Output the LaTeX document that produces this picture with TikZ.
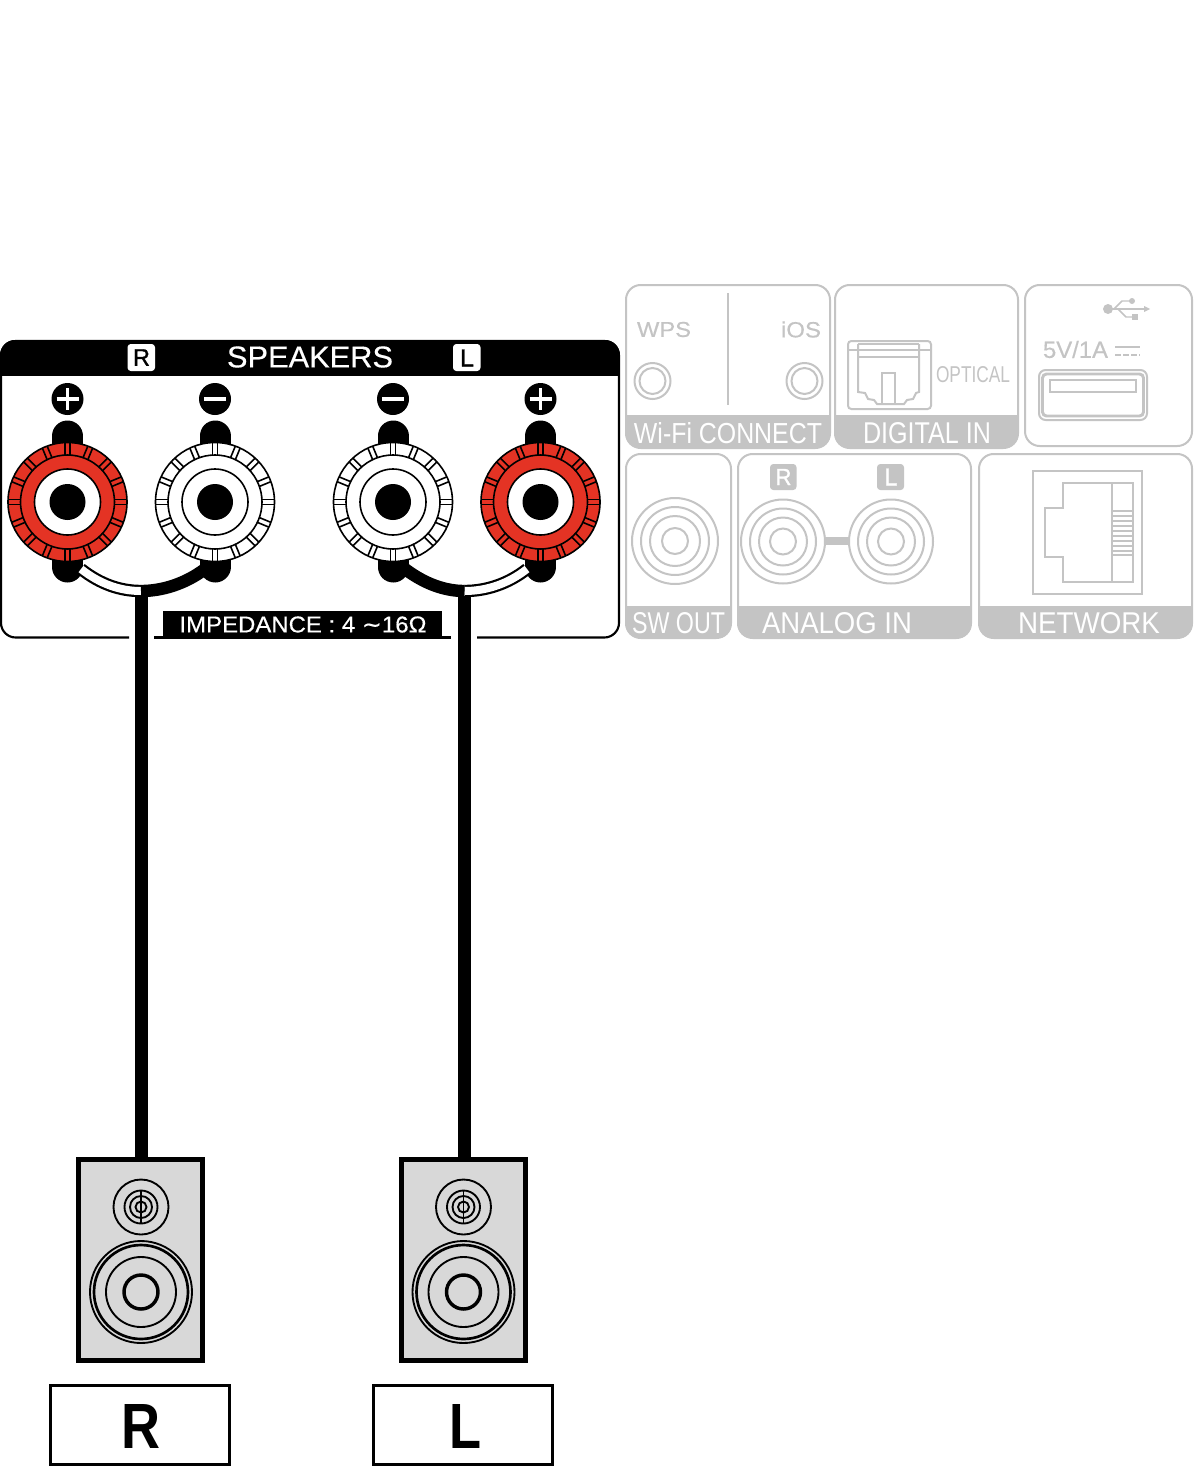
\documentclass[tikz,border=0pt]{standalone}
\usepackage{graphicx}
\usepackage{fontspec}
\setmainfont{Liberation Sans}
\newfontfamily\djv[FakeBold=0.4]{DejaVu Sans}
\newfontfamily\hvy[FakeBold=0.4]{Liberation Sans}
\newfontfamily\hvyy[FakeBold=1.2]{Liberation Sans}
\definecolor{dimgray}{HTML}{C4C4C4}
\definecolor{termred}{HTML}{E43324}
\definecolor{spkgray}{HTML}{D8D8D8}
\newcommand{\fitt}[3]{\resizebox{\dimexpr#1pt*3/4\relax}{\dimexpr#2pt*3/4\relax}{#3}}
\newcommand{\gpanel}[5]{%
  \begin{scope}
    \clip[rounded corners=11pt] (#1,#2) rectangle (#3,#4);
    \fill[dimgray] (#1,#5) rectangle (#3,#4);
  \end{scope}
  \draw[dimline,rounded corners=11pt] (#1,#2) rectangle (#3,#4);}
\newcommand{\binding}[3]{% x, name, ring fill
  \draw[line width=23.25pt,line cap=round] (#1,436) -- (#1,567);
  \coordinate (#2) at (#1,502);
  \fill[#3] (#2) circle[radius=59.5];
  \foreach \a in {0,22.5,...,337.5}{
    \draw[tick] ($(#2)+(\a:47)+(\a+90:2.6)$) -- ($(#2)+(\a:59.5)+(\a+90:2.6)$);
    \draw[tick] ($(#2)+(\a:47)+(\a-90:2.6)$) -- ($(#2)+(\a:59.5)+(\a-90:2.6)$);
  }
  \draw[tick] (#2) circle[radius=59.5];
  \draw[tick] (#2) circle[radius=47];
  \draw[tick,fill=white] (#2) circle[radius=33];
  \fill (#2) circle[radius=18];}
\newcommand{\spkdrv}[1]{% speaker centre x
  \draw[thinblk] (#1,1207) circle[radius=27.5];
  \draw[thinblk] (#1,1207) circle[radius=16.5];
  \draw[thinblk] (#1,1207) circle[radius=11];
  \draw[thinblk] (#1,1207) circle[radius=5.5];
  \draw[thinblk] (#1,1191) -- (#1,1223);
  \draw[thinblk] (#1,1292) circle[radius=51];
  \draw[line width=2pt] (#1,1292) circle[radius=47];
  \draw[thinblk] (#1,1292) circle[radius=35];
  \draw[line width=2.6pt] (#1,1292) circle[radius=17];}
\usetikzlibrary{calc}
\tikzset{
  dimline/.style={draw=dimgray,line width=1.5pt},
  thinblk/.style={draw=black,line width=1.4pt},
  tick/.style={draw=black,line width=1.2pt},
  txt/.style={inner sep=0pt,outer sep=0pt},
  wtxt/.style={txt,text=white},
  gtxt/.style={txt,text=dimgray},
  cabinet/.style={draw=black,line width=3.6pt,fill=spkgray,minimum width=92.5pt,minimum height=150.4pt,inner sep=0pt},
  namebox/.style={draw=black,line width=2.4pt,fill=white,minimum width=134pt,minimum height=59.5pt,inner sep=0pt},
  wirecore/.style={line width=9.3pt},
  wirewhite/.style={line width=6pt,draw=white},
  badge/.style={rounded corners=2.5pt}
}
\begin{document}
\begin{tikzpicture}[x=0.75pt,y=-0.75pt]
\useasboundingbox (0,0) rectangle (1193,1467);
\fill[white] (0,0) rectangle (1193,1467);

% ---- speaker panel
\draw[line width=1.6pt,rounded corners=11pt] (129,637.5) -- (1,637.5) -- (1,341) -- (619,341) -- (619,637.5) -- (477,637.5);
\draw[line width=1.6pt] (154,637.5) -- (451,637.5);
\fill[rounded corners=11pt] (0.2,375) -- (0.2,340) -- (619.8,340) -- (619.8,375) -- cycle;
\fill (0.2,360) rectangle (619.8,375.5);
\node[wtxt] (speakers) at (310,357) {\fitt{166}{21}{\hvy SPEAKERS}};
\fill[white,badge] (127.5,344) rectangle (155,371);
\node[txt] (badgeR) at (141.5,357.5) {\fitt{17}{16.5}{\hvyy R}};
\fill[white,badge] (453,344) rectangle (480.5,371);
\node[txt] (badgeL) at (467,358) {\fitt{14}{17}{\hvyy L}};
\fill (163,610.5) rectangle (442,637.5);
\node[wtxt] (imp) at (303,624.5) {\fitt{247}{16}{\hvy IMPEDANCE : 4 {\djv∼}16Ω}};

% ---- polarity marks
\foreach \x/\n in {67.5/a,540.5/d}{
  \fill (\x,399) circle[radius=16];
  \draw[white,line width=2.3pt] (\x-11,399) -- (\x+11,399) (\x,388) -- (\x,410);
}
\foreach \x/\n in {215/b,393/c}{
  \fill (\x,399) circle[radius=16];
  \draw[white,line width=2.3pt] (\x-11,399) -- (\x+11,399);
}

% ---- terminals
\binding{67.5}{tRp}{termred}
\binding{215}{tRm}{white}
\binding{393}{tLm}{white}
\binding{540.5}{tLp}{termred}

% ---- speakers and boxes
\node[cabinet] (spkR) at (140.5,1260) {};
\node[cabinet] (spkL) at (463.5,1260) {};
\spkdrv{141}
\spkdrv{463.5}
\node[namebox] (boxR) at (140,1425) {};
\node[namebox] (boxL) at (463,1425) {};
\node[txt] (textR) at (141.5,1426.5) {\fitt{39}{44}{\bfseries R}};
\node[txt] (textL) at (465,1426.5) {\fitt{32}{44}{\bfseries L}};

% ---- cables
\coordinate (jR) at (141,591);
\coordinate (jL) at (464.5,591);
\coordinate (wRp) at (81,569);
\coordinate (wRm) at (205,569);
\coordinate (wLm) at (405,569);
\coordinate (wLp) at (527,569);
\draw[wirecore] (wRp) .. controls (100,584) and (120,591) .. (jR);
\draw[wirewhite] (wRp) .. controls (100,584) and (120,591) .. (jR);
\draw[wirecore] (wRm) .. controls (185,584) and (162,591) .. (jR);
\draw[wirecore] (wLp) .. controls (508,584) and (486,591) .. (jL);
\draw[wirewhite] (wLp) .. controls (508,584) and (486,591) .. (jL);
\draw[wirecore] (wLm) .. controls (425,584) and (445,591) .. (jL);
\draw[line width=9.75pt] (141.5,596) -- (spkR.north -| 141.5,0);
\draw[line width=9.75pt] (464,596) -- (spkL.north -| 464,0);

% ---- Wi-Fi CONNECT
\gpanel{626}{285}{830}{448}{415}
\node[wtxt] (wifi) at (728,433) {\fitt{188}{21}{Wi-Fi CONNECT}};
\node[gtxt] (wps) at (664,329.5) {\fitt{54}{15}{\hvy WPS}};
\node[gtxt] (ios) at (801,329.5) {\fitt{40}{16}{\hvy iOS}};
\draw[dimline] (728,293) -- (728,405);
\foreach \x in {652.5,804.5}{
  \draw[dimline] (\x,381) circle[radius=18];
  \draw[dimline] (\x,381) circle[radius=13];
}

% ---- DIGITAL IN
\gpanel{835}{285}{1018}{448}{415}
\node[wtxt] (digital) at (927,433) {\fitt{128}{21}{DIGITAL IN}};
\node[gtxt] (optical) at (973,375) {\fitt{74}{16}{OPTICAL}};
\draw[dimline,rounded corners=2.5pt] (848,341) rectangle (931,409);
\draw[dimline] (848,350) -- (931,350) (858,357) -- (919,357) (858,344) -- (919,344);
\draw[dimline] (858,344) -- (858,392) -- (865,393) -- (868,399) -- (874,400) -- (877,404) -- (904,404) -- (907,400) -- (913,399) -- (916,393) -- (919,392) -- (919,344);
\draw[dimline] (882,404) -- (882,373) -- (895,373) -- (895,404);

% ---- USB
\draw[dimline,rounded corners=11pt] (1025,285) rectangle (1192,446);
\node[gtxt] (fivev) at (1075.5,349.5) {\fitt{65}{17}{\hvy 5V/1A}};
\draw[dimline] (1115,347) -- (1140,347);
\draw[dimline,dash pattern=on 4.5pt off 1.5pt] (1115,355) -- (1140,355);
\fill[dimgray] (1108,309) circle[radius=5];
\draw[dimline,line width=1.1pt] (1108,309) -- (1145,309);
\fill[dimgray] (1150,309) -- (1144,306) -- (1144,312) -- cycle;
\draw[dimline,line width=1.1pt] (1114,309) -- (1122,301) -- (1131,301);
\fill[dimgray] (1132,301) circle[radius=3];
\draw[dimline,line width=1.1pt] (1118,309) -- (1126,317) -- (1134,317);
\fill[dimgray] (1132,314) rectangle (1138,320);
\draw[dimline,rounded corners=5pt] (1039,370) rectangle (1147,420);
\draw[dimline,line width=2.2pt,rounded corners=3pt] (1042.5,374) rectangle (1143.5,416);
\draw[dimline] (1050,380) rectangle (1135.5,392);

% ---- SW OUT
\gpanel{626}{454}{731}{638}{606}
\node[wtxt] (swout) at (678.5,623) {\fitt{93}{21}{SW OUT}};
\foreach \r in {43,34,25,13}{\draw[dimline] (675,541) circle[radius=\r];}

% ---- ANALOG IN
\gpanel{738}{454}{971}{638}{606}
\node[wtxt] (analog) at (837,623) {\fitt{150}{21}{ANALOG IN}};
\fill[dimgray] (825,537) rectangle (849,545);
\foreach \c in {783,891}{
  \foreach \r in {42,33,24,13}{\draw[dimline] (\c,541.5) circle[radius=\r];}
}
\fill[dimgray,badge] (770,464) rectangle (796.5,490);
\node[txt,text=white] (aR) at (783.5,477) {\fitt{16}{16}{\hvyy R}};
\fill[dimgray,badge] (877,464) rectangle (904,490);
\node[txt,text=white] (aL) at (891,477) {\fitt{13}{17}{\hvyy L}};

% ---- NETWORK
\gpanel{979}{454}{1192}{638}{606}
\node[wtxt] (network) at (1089,623) {\fitt{142}{21}{NETWORK}};
\draw[dimline] (1033,471) rectangle (1141.5,594);
\draw[dimline] (1062.5,483) -- (1133,483) -- (1133,582) -- (1062.5,582) -- (1062.5,557) -- (1045,557) -- (1045,508) -- (1062.5,508) -- cycle;
\draw[dimline] (1112,483) -- (1112,582);
\foreach \y in {511,516,521,526,531,536,541,546,551,555}{
  \draw[dimline,line width=1.1pt] (1112,\y) -- (1133,\y);
}
\end{tikzpicture}
\end{document}
